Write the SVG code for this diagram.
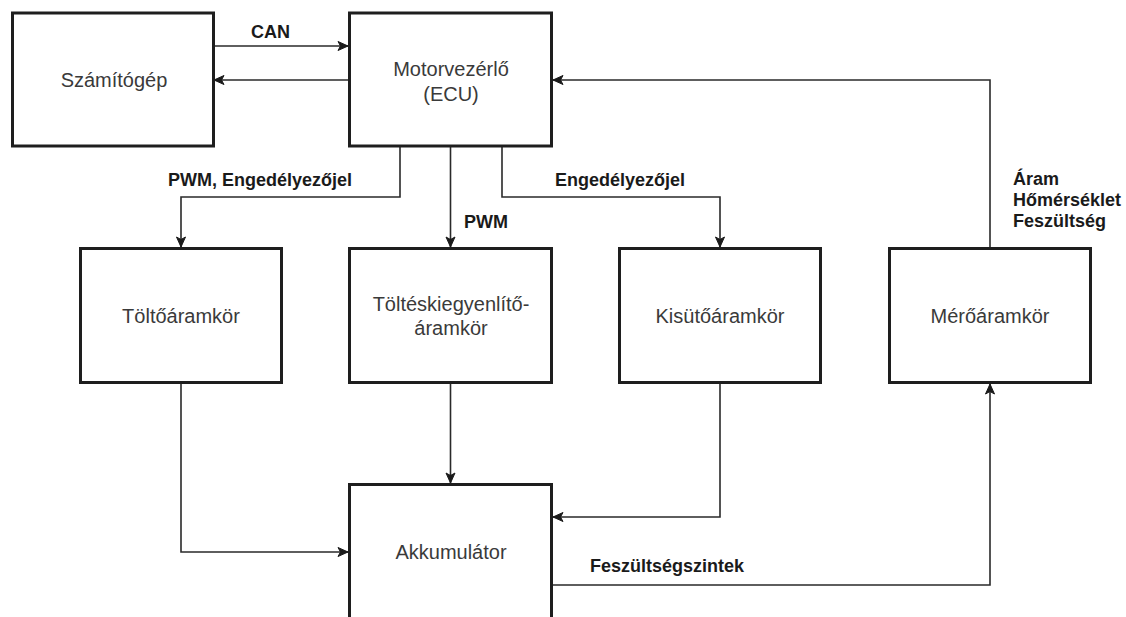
<svg xmlns="http://www.w3.org/2000/svg" width="1126" height="617" viewBox="0 0 1126 617">
  <style>
    .box { fill: #ffffff; stroke: #1e1e1e; stroke-width: 3; }
    .lbl { font-family: "Liberation Sans", Arial, sans-serif; font-size: 20px; fill: #3a3a3a; text-anchor: middle; }
    .elbl { font-family: "Liberation Sans", Arial, sans-serif; font-size: 18px; font-weight: bold; fill: #1a1a1a; }
    .wire { fill: none; stroke: #2a2a2a; stroke-width: 1.6; marker-end: url(#arrow); }
  </style>
  <defs>
    <marker id="arrow" markerUnits="userSpaceOnUse" markerWidth="12" markerHeight="12" refX="11" refY="6" orient="auto">
      <path d="M1,1.5 L11,6 L1,10.5 L3.5,6 Z" fill="#1a1a1a" stroke="#1a1a1a" stroke-width="1"/>
    </marker>
  </defs>

  <rect width="1126" height="617" fill="#ffffff"/>

  <!-- connectors -->
  <g id="connectors">
    <path class="wire" d="M214,46 H348"/>
    <path class="wire" d="M348,80 H214"/>
    <path class="wire" d="M400,147 V197 H181 V247"/>
    <path class="wire" d="M450.5,147 V247"/>
    <path class="wire" d="M502,147 V197 H720 V247"/>
    <path class="wire" d="M181,384 V552 H348"/>
    <path class="wire" d="M450.5,384 V483"/>
    <path class="wire" d="M720,384 V517 H553"/>
    <path class="wire" d="M553,585 H990 V384"/>
    <path class="wire" d="M990,247 V80 H553"/>

    <text class="elbl" x="251" y="38">CAN</text>
    <text class="elbl" x="168" y="186">PWM, Engedélyezőjel</text>
    <text class="elbl" x="464" y="228">PWM</text>
    <text class="elbl" x="555" y="186">Engedélyezőjel</text>
    <text class="elbl" x="1013" y="185">Áram</text>
    <text class="elbl" x="1013" y="206">Hőmérséklet</text>
    <text class="elbl" x="1013" y="227">Feszültség</text>
    <text class="elbl" x="590" y="572">Feszültségszintek</text>
  </g>

  <!-- nodes -->
  <g id="szamitogep">
    <rect class="box" x="12.5" y="13" width="201" height="133"/>
    <text class="lbl" x="114" y="87">Számítógép</text>
  </g>
  <g id="motorvezerlo">
    <rect class="box" x="349.5" y="13" width="202" height="133"/>
    <text class="lbl" x="451" y="76">Motorvezérlő</text>
    <text class="lbl" x="451" y="101">(ECU)</text>
  </g>
  <g id="toltoaramkor">
    <rect class="box" x="80.5" y="248.5" width="201" height="134"/>
    <text class="lbl" x="181" y="323">Töltőáramkör</text>
  </g>
  <g id="tolteskiegyenlito">
    <rect class="box" x="349.5" y="248.5" width="202" height="134"/>
    <text class="lbl" x="451" y="311">Töltéskiegyenlítő-</text>
    <text class="lbl" x="451" y="335">áramkör</text>
  </g>
  <g id="kisutoaramkor">
    <rect class="box" x="619.5" y="248.5" width="201" height="134"/>
    <text class="lbl" x="720" y="323">Kisütőáramkör</text>
  </g>
  <g id="meroaramkor">
    <rect class="box" x="889.5" y="248.5" width="201" height="134"/>
    <text class="lbl" x="990" y="323">Mérőáramkör</text>
  </g>
  <g id="akkumulator">
    <rect class="box" x="349.5" y="484.5" width="202" height="160"/>
    <text class="lbl" x="451" y="559">Akkumulátor</text>
  </g>
</svg>
